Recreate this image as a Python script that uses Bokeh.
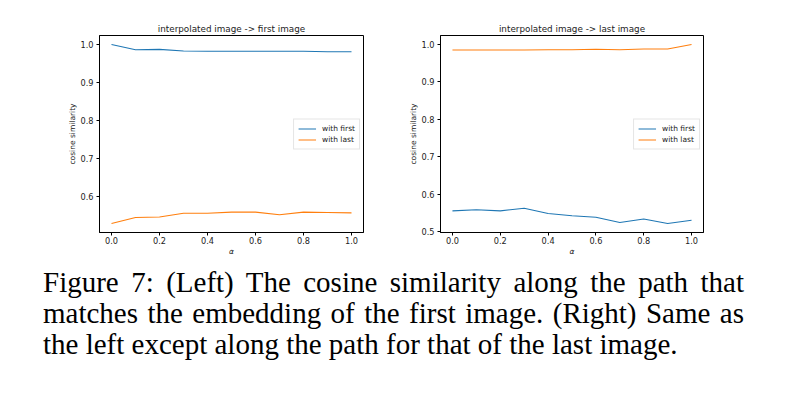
from bokeh.plotting import figure
from bokeh.models import Legend, LegendItem, FixedTicker, NumeralTickFormatter, Range1d, Div
from bokeh.layouts import row, column
from bokeh.embed import file_html
from bokeh.resources import INLINE

alpha = [0.0, 0.1, 0.2, 0.3, 0.4, 0.5, 0.6, 0.7, 0.8, 0.9, 1.0]

# Left panel: interpolated image -> first image
left_with_first = [1.000, 0.986, 0.987, 0.983, 0.982, 0.982, 0.982, 0.982, 0.982, 0.981, 0.981]
left_with_last = [0.530, 0.546, 0.547, 0.557, 0.557, 0.560, 0.560, 0.553, 0.560, 0.559, 0.558]

# Right panel: interpolated image -> last image
right_with_first = [0.555, 0.558, 0.555, 0.562, 0.548, 0.542, 0.538, 0.524, 0.533, 0.521, 0.530]
right_with_last = [0.985, 0.985, 0.985, 0.985, 0.986, 0.986, 0.987, 0.986, 0.988, 0.988, 1.000]

x_ticks = [0.0, 0.2, 0.4, 0.6, 0.8, 1.0]
left_y_ticks = [0.6, 0.7, 0.8, 0.9, 1.0]
right_y_ticks = [0.5, 0.6, 0.7, 0.8, 0.9, 1.0]

titles = ["interpolated image -> first image", "interpolated image -> last image"]
series_names = ["with first", "with last"]
caption_lines = [
    "Figure 7: (Left) The cosine similarity along the path that",
    "matches the embedding of the first image. (Right) Same as",
    "the left except along the path for that of the last image.",
]

BLUE = "#1f77b4"
ORANGE = "#ff7f0e"
FONT = "DejaVu Sans"


def pad_range(vals, frac=0.05):
    lo, hi = min(vals), max(vals)
    d = (hi - lo) * frac
    return lo - d, hi + d


def make_panel(title, first, last, yticks, width, border_left, border_right):
    ylo, yhi = pad_range(first + last)
    xlo, xhi = pad_range(alpha)
    p = figure(width=width, height=267, output_backend="svg", toolbar_location=None,
               x_range=Range1d(xlo, xhi), y_range=Range1d(ylo, yhi),
               min_border_left=border_left, min_border_right=border_right,
               min_border_top=35, min_border_bottom=35)
    p.title.text = title
    p.title.align = "center"
    p.title.text_font = FONT
    p.title.text_font_size = "8.8px"
    p.title.text_font_style = "normal"
    p.title.text_color = "#222222"
    p.title.standoff = 4
    p.xgrid.visible = False
    p.ygrid.visible = False
    p.outline_line_color = "black"
    p.outline_line_alpha = 1.0
    p.outline_line_width = 1
    for ax in (p.xaxis[0], p.yaxis[0]):
        ax.major_label_text_font = FONT
        ax.major_label_text_font_size = "8.2px"
        ax.major_label_text_color = "#222222"
        ax.axis_label_text_font = FONT
        ax.axis_label_text_font_size = "7.5px"
        ax.axis_label_text_font_style = "normal"
        ax.axis_label_text_color = "#222222"
        ax.minor_tick_line_color = None
        ax.major_tick_out = 3
        ax.major_tick_in = 0
        ax.axis_line_color = "black"
        ax.major_tick_line_color = "black"
        ax.formatter = NumeralTickFormatter(format="0.0")
    p.xaxis.ticker = FixedTicker(ticks=x_ticks)
    p.yaxis.ticker = FixedTicker(ticks=yticks)
    p.xaxis.axis_label = "α"
    p.xaxis.axis_label_text_font_style = "italic"
    p.xaxis.axis_label_standoff = 0
    p.xaxis.major_label_standoff = 1
    p.yaxis.axis_label = "cosine similarity"
    p.yaxis.axis_label_standoff = 0
    p.yaxis.major_label_standoff = 3

    r1 = p.line(alpha, first, line_color=BLUE, line_width=1.1)
    r2 = p.line(alpha, last, line_color=ORANGE, line_width=1.1)
    legend = Legend(items=[LegendItem(label=series_names[0], renderers=[r1]),
                           LegendItem(label=series_names[1], renderers=[r2])],
                    location="right")
    legend.label_text_font = FONT
    legend.label_text_font_size = "7.5px"
    legend.label_text_color = "#222222"
    legend.glyph_width = 18
    legend.glyph_height = 10
    legend.label_height = 10
    legend.label_standoff = 6
    legend.spacing = 1
    legend.padding = 4
    legend.margin = 3
    legend.border_line_color = "#cccccc"
    legend.border_line_width = 1
    legend.background_fill_alpha = 0.85
    p.add_layout(legend, "center")
    return p


p1 = make_panel(titles[0], left_with_first, left_with_last, left_y_ticks, 373, 99, 10)
p2 = make_panel(titles[1], right_with_first, right_with_last, right_y_ticks, 350, 67, 20)

line_style = ("white-space:nowrap;font-family:'Liberation Serif';font-size:29px;"
              "line-height:31px;color:#000;")
html = "<div style='margin-left:43px;width:701px;'>"
for i, ln in enumerate(caption_lines):
    just = "text-align:justify;text-align-last:justify;" if i < len(caption_lines) - 1 else "text-align:left;"
    html += f"<div style=\"{line_style}{just}\">{ln}</div>"
html += "</div>"
cap = Div(text=html, width=770, height=110, styles={"margin": "0", "padding": "0"})

layout = column(row(p1, p2), cap)
open("out.html", "w").write(file_html(layout, INLINE))
